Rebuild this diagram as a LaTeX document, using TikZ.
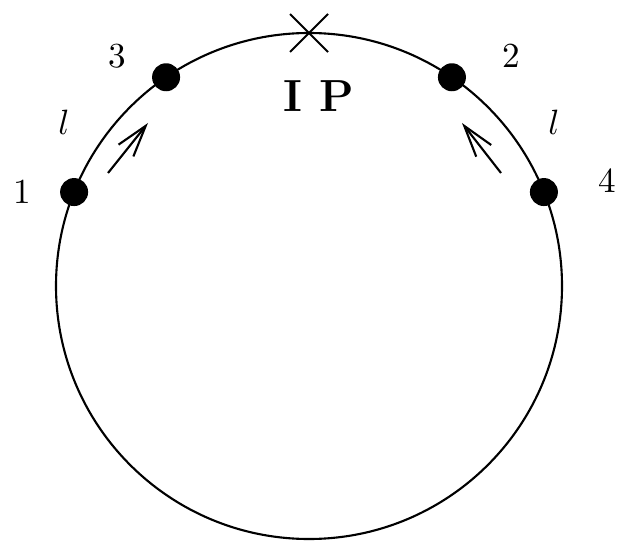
\documentclass[tikz,border=0pt]{standalone}
\usetikzlibrary{arrows.meta, calc}
\tikzset{
  ring/.style={line width=0.6pt},
  dot/.style={circle, fill=black, inner sep=0pt, minimum size=0.28cm},
  num/.style={anchor=base, inner sep=0pt, font=\normalsize},
  mv/.style={line width=0.6pt, -{Straight Barb[length=9pt, width=5.4pt, line width=0.6pt]}},
}
\begin{document}
\begin{tikzpicture}
\useasboundingbox (0,0) rectangle (6.18,-5.43);

% -- ring ------------------------------------------------
\coordinate (c) at (3.09,-2.86);
\draw[ring] (c) circle (2.53);

% -- interaction point ----------------------------------
\coordinate (ip) at ($(c)+(90:2.53)$);
\draw[ring] ($(ip)+(-0.19,0.19)$) -- ($(ip)+(0.19,-0.19)$);
\draw[ring] ($(ip)+(-0.19,-0.19)$) -- ($(ip)+(0.19,0.19)$);
\node[num, font=\fontsize{12.8}{15}\selectfont\bfseries] (iplbl) at (3.19,-1.12) {I P};

% -- points on the ring ---------------------------------
\node[dot] (p1) at ($(c)+(158.2:2.53)$) {};
\node[dot] (p3) at ($(c)+(124.4:2.53)$) {};
\node[dot] (p2) at ($(c)+(55.6:2.53)$) {};
\node[dot] (p4) at ($(c)+(21.8:2.53)$) {};

\node[num] (n1) at (0.22,-2.03) {1};
\node[num] (n3) at (1.17,-0.68) {3};
\node[num] (n2) at (5.11,-0.68) {2};
\node[num] (n4) at (6.07,-1.93) {4};
\node[num] (l13) at (0.64,-1.35) {$l$};
\node[num] (l24) at (5.54,-1.35) {$l$};

% -- motion ----------------------------------------------
\coordinate (a1s) at (1.08,-1.73);
\coordinate (a1e) at (1.48,-1.23);
\coordinate (a2s) at (5.01,-1.73);
\coordinate (a2e) at (4.62,-1.23);
\draw[mv] (a1s) -- (a1e);
\draw[mv] (a2s) -- (a2e);

\end{tikzpicture}
\end{document}
